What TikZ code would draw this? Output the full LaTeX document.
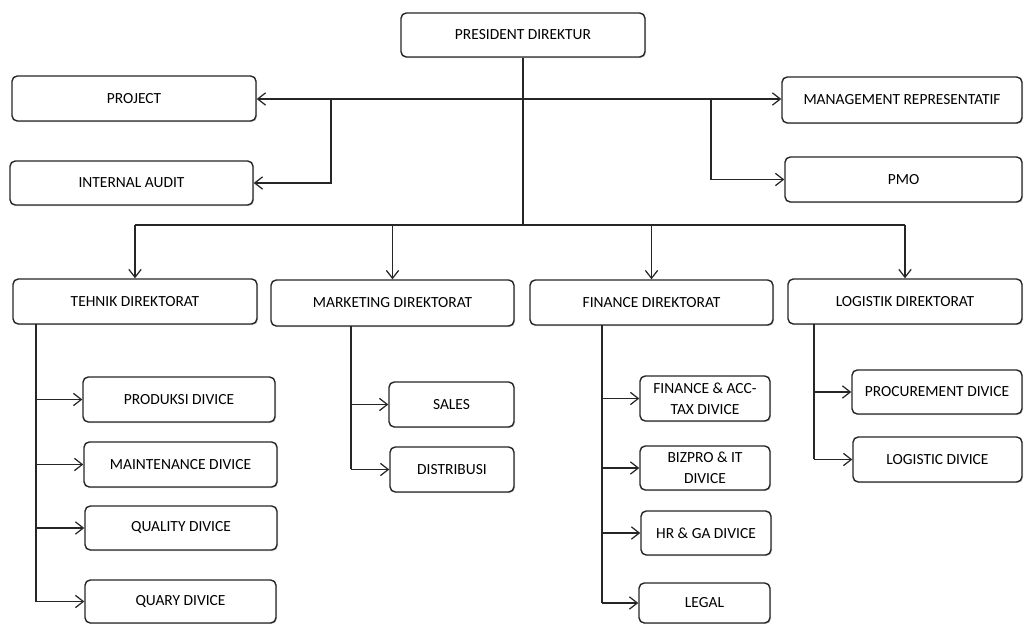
\documentclass[tikz,border=0pt]{standalone}
\usepackage{fontspec}
\setmainfont{Carlito}
\usetikzlibrary{arrows.meta,shadows}
\begin{document}
\begin{tikzpicture}[x=0.02cm,y=-0.02cm,
  box/.style={draw=black!85, line width=0.8pt, rounded corners=3pt, fill=white,
    inner sep=0pt, align=center, font=\fontsize{8.8}{12}\selectfont,
    drop shadow={shadow xshift=0.6pt, shadow yshift=-0.6pt, opacity=0.35}},
  conn/.style={draw=black!85, line width=0.8pt},
  arr/.style={conn, -{Straight Barb[length=4.5pt,width=7pt,line width=0.7pt]}},
  darr/.style={conn, {Straight Barb[length=4.5pt,width=7pt,line width=0.7pt]}-{Straight Barb[length=4.5pt,width=7pt,line width=0.7pt]}}]
\useasboundingbox (0,0) rectangle (1024,624);
% boxes
\node[box, minimum width=244*0.02cm, minimum height=44*0.02cm] (pres) at (523,35) {PRESIDENT DIREKTUR};
\node[box, minimum width=244*0.02cm, minimum height=45*0.02cm] (project) at (134,98.5) {PROJECT};
\node[box, minimum width=243*0.02cm, minimum height=44*0.02cm] (audit) at (131.5,183) {INTERNAL AUDIT};
\node[box, minimum width=240*0.02cm, minimum height=46*0.02cm] (mgmt) at (902,100) {MANAGEMENT REPRESENTATIF};
\node[box, minimum width=237*0.02cm, minimum height=45*0.02cm] (pmo) at (903.5,179.5) {PMO};
\node[box, minimum width=244*0.02cm, minimum height=45*0.02cm] (tehnik) at (135,301.5) {TEHNIK DIREKTORAT};
\node[box, minimum width=243*0.02cm, minimum height=46*0.02cm] (marketing) at (392.5,303) {MARKETING DIREKTORAT};
\node[box, minimum width=243*0.02cm, minimum height=45*0.02cm] (finance) at (651.5,302.5) {FINANCE DIREKTORAT};
\node[box, minimum width=234*0.02cm, minimum height=45*0.02cm] (logistik) at (905,301.5) {LOGISTIK DIREKTORAT};
\node[box, minimum width=192*0.02cm, minimum height=45*0.02cm] (produksi) at (179,399.5) {PRODUKSI DIVICE};
\node[box, minimum width=193*0.02cm, minimum height=45*0.02cm] (maint) at (180.5,464.5) {MAINTENANCE DIVICE};
\node[box, minimum width=192*0.02cm, minimum height=44*0.02cm] (quality) at (181,528) {QUALITY DIVICE};
\node[box, minimum width=191*0.02cm, minimum height=43*0.02cm] (quary) at (180.5,601.5) {QUARY DIVICE};
\node[box, minimum width=125*0.02cm, minimum height=45*0.02cm] (sales) at (451.5,404.5) {SALES};
\node[box, minimum width=124*0.02cm, minimum height=45*0.02cm] (distrib) at (452,469.5) {DISTRIBUSI};
\node[box, minimum width=130*0.02cm, minimum height=45*0.02cm] (finacc) at (705,398.5) {FINANCE \& ACC-\\TAX DIVICE};
\node[box, minimum width=130*0.02cm, minimum height=44*0.02cm] (bizpro) at (705,468) {BIZPRO \& IT\\DIVICE};
\node[box, minimum width=130*0.02cm, minimum height=44*0.02cm] (hrga) at (706,533) {HR \& GA DIVICE};
\node[box, minimum width=131*0.02cm, minimum height=40*0.02cm] (legal) at (704.5,603) {LEGAL};
\node[box, minimum width=170*0.02cm, minimum height=44*0.02cm] (procure) at (937,392) {PROCUREMENT DIVICE};
\node[box, minimum width=169*0.02cm, minimum height=45*0.02cm] (logdiv) at (937.5,459.5) {LOGISTIC DIVICE};
% junction coordinates
\coordinate (hub) at (523,99);
\coordinate (ja) at (331,99);
\coordinate (jp) at (711,99);
\coordinate (bar) at (523,225);
\coordinate (tt) at (36,324);
\coordinate (mt) at (351,326);
\coordinate (ft) at (602,325);
\coordinate (lt) at (814,324);
% top level
\draw[conn] (pres.south) -- (bar);
\draw[darr] (project.east |- hub) -- (mgmt.west |- hub);
\draw[arr] (ja) |- (audit.east);
\draw[arr] (jp) |- (pmo.west);
\draw[conn] (bar -| tehnik.north) -- (bar -| logistik.north);
\draw[arr] (bar -| tehnik.north) -- (tehnik.north);
\draw[arr] (bar -| marketing.north) -- (marketing.north);
\draw[arr] (bar -| finance.north) -- (finance.north);
\draw[arr] (bar -| logistik.north) -- (logistik.north);
% tehnik
\draw[conn] (tt) -- (tt |- quary.west);
\draw[arr] (tt |- produksi.west) -- (produksi.west);
\draw[arr] (tt |- maint.west) -- (maint.west);
\draw[arr] (tt |- quality.west) -- (quality.west);
\draw[arr] (tt |- quary.west) -- (quary.west);
% marketing
\draw[conn] (mt) -- (mt |- distrib.west);
\draw[arr] (mt |- sales.west) -- (sales.west);
\draw[arr] (mt |- distrib.west) -- (distrib.west);
% finance
\draw[conn] (ft) -- (ft |- legal.west);
\draw[arr] (ft |- finacc.west) -- (finacc.west);
\draw[arr] (ft |- bizpro.west) -- (bizpro.west);
\draw[arr] (ft |- hrga.west) -- (hrga.west);
\draw[arr] (ft |- legal.west) -- (legal.west);
% logistik
\draw[conn] (lt) -- (lt |- logdiv.west);
\draw[arr] (lt |- procure.west) -- (procure.west);
\draw[arr] (lt |- logdiv.west) -- (logdiv.west);
\end{tikzpicture}
\end{document}
